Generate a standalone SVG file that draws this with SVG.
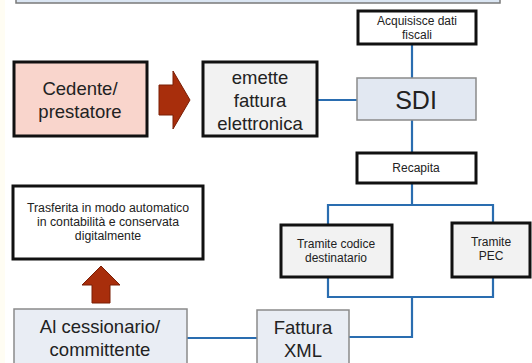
<svg xmlns="http://www.w3.org/2000/svg" width="532" height="363" viewBox="0 0 532 363">
<style>
text{font-family:"Liberation Sans",Arial,sans-serif;fill:#222;text-anchor:middle}
.thick{stroke:#111;stroke-width:3}
.thin{stroke:#8a8a8a;stroke-width:1.5}
.big{font-size:18.5px}
.sm{font-size:12px}
.conn{fill:none;stroke:#2a6db0;stroke-width:2.2}
.arrow{fill:#a82e0c;stroke:#7a1e05;stroke-width:1}
</style>
<rect x="0" y="0" width="532" height="363" fill="#ffffff"/>
<rect x="0" y="0" width="5" height="363" fill="#fffdf3"/>
<g id="topbar"><rect x="16" y="-5" width="484" height="8" fill="#dbe6f3" stroke="#7a7a7a" stroke-width="1.5"/></g>
<g id="connectors">
<line class="conn" x1="412" y1="45" x2="412" y2="78"/>
<line class="conn" x1="412" y1="120" x2="412" y2="153"/>
<line class="conn" x1="317" y1="100" x2="357" y2="100"/>
<path class="conn" d="M412 183 V205 M328 225 V205 H493 V223"/>
<path class="conn" d="M328 277 V297 H493 V277 M412 297 V337 H349"/>
<line class="conn" x1="187" y1="338" x2="257" y2="338"/>
</g>
<g id="acquisisce"><rect x="358" y="11" width="118" height="33" fill="#fff" class="thick"/>
<text class="sm" x="417" y="25">Acquisisce dati</text><text class="sm" x="417" y="39">fiscali</text></g>
<g id="sdi"><rect x="357" y="78" width="119" height="42" fill="#e2e8f2" class="thin"/>
<text x="416" y="109" font-size="25">SDI</text></g>
<g id="recapita"><rect x="357" y="153" width="119" height="30" fill="#fff" class="thick"/>
<text class="sm" x="416" y="172">Recapita</text></g>
<g id="cedente"><rect x="14" y="62" width="133" height="74" fill="#f9d5cc" class="thick"/>
<text class="big" x="80" y="95">Cedente/</text><text class="big" x="80" y="118">prestatore</text></g>
<g id="arrow-right"><path class="arrow" d="M159 85 H173 V71 L190 100 L173 129 V115 H159 Z"/></g>
<g id="emette"><rect x="203" y="62" width="114" height="74" fill="#f2f2f2" class="thick"/>
<text class="big" x="260" y="84">emette</text><text class="big" x="260" y="107">fattura</text><text class="big" x="260" y="130">elettronica</text></g>
<g id="trasferita"><rect x="13" y="186" width="190" height="73" fill="#fff" class="thick"/>
<text x="108" y="212" font-size="12.3">Trasferita in modo automatico</text>
<text x="108" y="226" font-size="12.3">in contabilità e conservata</text>
<text x="108" y="240" font-size="12.3">digitalmente</text></g>
<g id="arrow-up"><path class="arrow" d="M92 303 V285 H82 L101 266 L120 285 H110 V303 Z"/></g>
<g id="cessionario"><rect x="14" y="309" width="173" height="60" fill="#e9edf4" class="thin"/>
<text class="big" x="100" y="333">Al cessionario/</text><text class="big" x="100" y="356">committente</text></g>
<g id="fattura"><rect x="257" y="310" width="92" height="60" fill="#e9edf4" class="thin"/>
<text class="big" x="303" y="334">Fattura</text><text class="big" x="303" y="357">XML</text></g>
<g id="codice"><rect x="281" y="225" width="111" height="52" fill="#f2f2f2" class="thick"/>
<text class="sm" x="336" y="248">Tramite codice</text><text class="sm" x="336" y="262">destinatario</text></g>
<g id="pec"><rect x="452" y="223" width="78" height="54" fill="#f2f2f2" class="thick"/>
<text class="sm" x="491" y="246">Tramite</text><text class="sm" x="491" y="260">PEC</text></g>
</svg>
